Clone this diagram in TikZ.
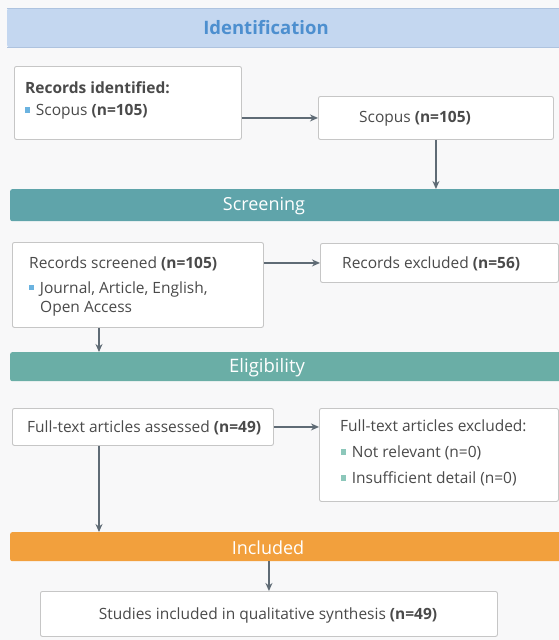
\documentclass[tikz,border=0pt]{standalone}
\usepackage{fontspec}
\setmainfont{Open Sans}
\usetikzlibrary{arrows.meta,calc}
\definecolor{bgc}{HTML}{F8F8F9}
\definecolor{idfill}{HTML}{C4D7F0}
\definecolor{idline}{HTML}{AEC3DF}
\definecolor{idtext}{HTML}{4D8FCF}
\definecolor{scrfill}{HTML}{5FA4AA}
\definecolor{elifill}{HTML}{6AAEA6}
\definecolor{incfill}{HTML}{F2A03D}
\definecolor{boxline}{HTML}{C6C6C6}
\definecolor{txt}{HTML}{4A4A4A}
\definecolor{arrc}{HTML}{5F6B75}
\definecolor{bulA}{HTML}{6BB3E0}
\definecolor{bulB}{HTML}{8CC7BA}
\newcommand{\bulx}[1]{\textcolor{#1}{\rule[0.2em]{0.34em}{0.34em}}\hspace{0.35em}}
\tikzset{
  px/.style={x=1pt,y=-1pt},
  band/.style={draw=none,rounded corners=2pt,minimum height=#1,inner sep=0pt},
  bandtext/.style={font=\fontsize{18}{20}\selectfont,text=white},
  boxx/.style={draw=boxline,line width=0.9pt,fill=white,rounded corners=2pt,inner sep=0pt},
  lbl/.style={font=\fontsize{15.5}{18}\selectfont,text=txt,inner sep=0pt},
  arr/.style={draw=arrc,line width=1.3pt,-{Stealth[length=8pt,width=7pt]}},
}
\begin{document}
\begin{tikzpicture}[px]
\useasboundingbox (0,0) rectangle (559,640);
\fill[bgc] (0,0) rectangle (559,640);
\clip (0,0) rectangle (559,640);
% bands
\node[band=39pt,fill=idfill,minimum width=560pt,anchor=north west] (idb) at (7,8) {};
\draw[idline,line width=0.8pt] (idb.north west) -- (idb.north east);
\draw[idline,line width=0.8pt] (idb.south west) -- (idb.south east);
\node[font=\fontsize{18.5}{20}\selectfont\bfseries,text=idtext] (idt) at (266,28) {Identification};
\node[band=32pt,fill=scrfill,minimum width=560pt,anchor=north west] (scr) at (10,189) {};
\node[bandtext] (scrt) at (264,206) {Screening};
\node[band=29pt,fill=elifill,minimum width=560pt,anchor=north west] (eli) at (10,352) {};
\node[bandtext,font=\fontsize{18.5}{20}\selectfont] (elit) at (267,367.5) {Eligibility};
\node[band=29pt,fill=incfill,minimum width=560pt,anchor=north west] (inc) at (10,532) {};
\node[bandtext] (inct) at (268,547.5) {Included};
% boxes
\node[boxx,minimum width=227pt,minimum height=73pt,anchor=north west] (b1) at (14,66) {};
\node[lbl,anchor=west,font=\fontsize{15.5}{18}\selectfont\bfseries] (b1a) at (25,87.5) {Records identified:};
\node[lbl,anchor=west] (b1b) at (25,112) {\bulx{bulA}Scopus \textbf{(n=105)}};
\node[boxx,minimum width=235pt,minimum height=43pt,anchor=north west] (b2) at (318,96) {};
\node[lbl] (b2a) at (415,118.5) {Scopus \textbf{(n=105)}};
\node[boxx,minimum width=251pt,minimum height=85pt,anchor=north west] (b3) at (12,242) {};
\node[lbl,anchor=west] (b3a) at (29,264) {Records screened \textbf{(n=105)}};
\node[lbl,anchor=west] (b3b) at (29,289) {\bulx{bulA}Journal, Article, English,};
\node[lbl,anchor=west] (b3c) at (40,309) {Open Access};
\node[boxx,minimum width=238pt,minimum height=39pt,anchor=north west] (b4) at (320,243) {};
\node[lbl,anchor=west] (b4a) at (342,263.5) {Records excluded \textbf{(n=56)}};
\node[boxx,minimum width=261pt,minimum height=37pt,anchor=north west] (b5) at (12,408) {};
\node[lbl,anchor=west] (b5a) at (27,427.5) {Full-text articles assessed \textbf{(n=49)}};
\node[boxx,minimum width=239pt,minimum height=93pt,anchor=north west] (b6) at (319,408) {};
\node[lbl,anchor=west] (b6a) at (340,426) {Full-text articles excluded:};
\node[lbl,anchor=west] (b6b) at (341,453) {\bulx{bulB}Not relevant (n=0)};
\node[lbl,anchor=west] (b6c) at (341,479) {\bulx{bulB}Insufficient detail (n=0)};
\node[boxx,minimum width=457pt,minimum height=45pt,anchor=north west] (b7) at (40,591) {};
\node[lbl] (b7a) at (268,615) {Studies included in qualitative synthesis \textbf{(n=49)}};
% connectors
\draw[arr] (b1.east |- b2.west) -- (b2.west);
\draw[arr] (b2.south) -- (b2.south |- scr.north);
\draw[arr] (b3.east |- b4.west) -- (b4.west);
\draw[arr] ([xshift=87pt]b3.south west) -- ([xshift=87pt]b3.south west |- eli.north);
\draw[arr] (b5.east) -- (b5.east -| b6.west);
\draw[arr] ([xshift=87pt]b5.south west) -- ([xshift=87pt]b5.south west |- inc.north);
\draw[arr] (b7.north |- inc.south) -- (b7.north);
\end{tikzpicture}
\end{document}
